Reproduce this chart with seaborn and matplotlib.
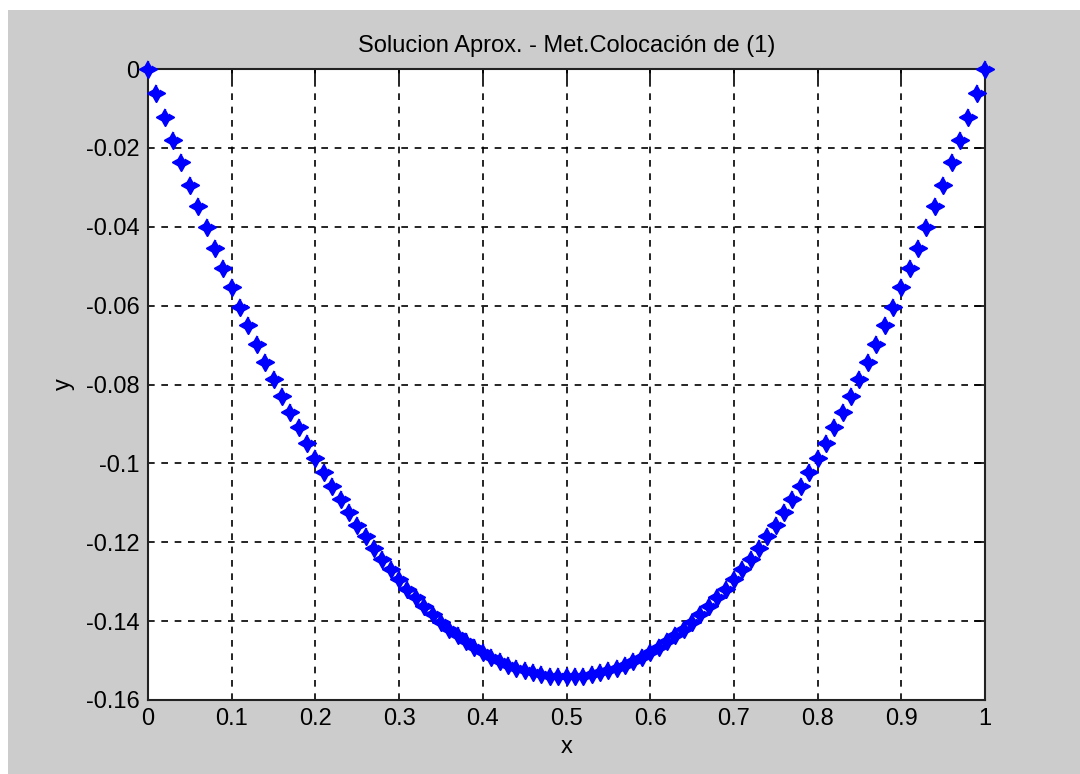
import matplotlib
matplotlib.use("Agg")
import matplotlib.pyplot as plt
import seaborn as sns
import pandas as pd
import numpy as np
from matplotlib.patches import Rectangle

x_vals = [round(i * 0.01, 2) for i in range(101)]
y_vals = [
    0.0, -0.0061, -0.0121, -0.0179, -0.0237, -0.0293, -0.0347, -0.0401, -0.0453, -0.0505,
    -0.0554, -0.0603, -0.0650, -0.0697, -0.0742, -0.0785, -0.0828, -0.0869, -0.0909, -0.0948,
    -0.0986, -0.1022, -0.1057, -0.1091, -0.1124, -0.1155, -0.1185, -0.1214, -0.1242, -0.1268,
    -0.1294, -0.1318, -0.1340, -0.1362, -0.1382, -0.1401, -0.1419, -0.1436, -0.1451, -0.1465,
    -0.1478, -0.1490, -0.1501, -0.1510, -0.1518, -0.1525, -0.1530, -0.1534, -0.1538, -0.1539,
    -0.1540,
    -0.1539, -0.1538, -0.1534, -0.1530, -0.1525, -0.1518, -0.1510, -0.1501, -0.1490, -0.1478,
    -0.1465, -0.1451, -0.1436, -0.1419, -0.1401, -0.1382, -0.1362, -0.1340, -0.1318, -0.1294,
    -0.1268, -0.1242, -0.1214, -0.1185, -0.1155, -0.1124, -0.1091, -0.1057, -0.1022, -0.0986,
    -0.0948, -0.0909, -0.0869, -0.0828, -0.0785, -0.0742, -0.0697, -0.0650, -0.0603, -0.0554,
    -0.0505, -0.0453, -0.0401, -0.0347, -0.0293, -0.0237, -0.0179, -0.0121, -0.0061, 0.0,
]
x_ticks = [0, 0.1, 0.2, 0.3, 0.4, 0.5, 0.6, 0.7, 0.8, 0.9, 1]
x_tick_labels = ["0", "0.1", "0.2", "0.3", "0.4", "0.5", "0.6", "0.7", "0.8", "0.9", "1"]
y_ticks = [0, -0.02, -0.04, -0.06, -0.08, -0.1, -0.12, -0.14, -0.16]
y_tick_labels = ["0", "-0.02", "-0.04", "-0.06", "-0.08", "-0.1", "-0.12", "-0.14", "-0.16"]
title_text = "Solucion Aprox. - Met.Colocación de (1)"

sns.set_style("white")
plt.rcParams["font.family"] = ["Liberation Sans", "DejaVu Sans"]
plt.rcParams["text.color"] = "black"
plt.rcParams["axes.labelcolor"] = "black"

# fat four-pointed star marker shape
ang = np.arange(8) * np.pi / 4 + np.pi / 2
rad = np.where(np.arange(8) % 2 == 0, 1.0, 0.5)
star_verts = list(zip(rad * np.cos(ang), rad * np.sin(ang)))

fig = plt.figure(figsize=(10.8, 7.74), dpi=100, facecolor="white")
fig.patches.append(Rectangle((8 / 1080, 0), 1, 1 - 10 / 774, transform=fig.transFigure,
                             facecolor="#cccccc", edgecolor="none", zorder=-10))
ax = fig.add_axes([148 / 1080, 1 - 700 / 774, (985 - 148) / 1080, (700 - 69) / 774])
ax.set_facecolor("white")

df = pd.DataFrame({"x": x_vals, "y": y_vals})
sns.scatterplot(data=df, x="x", y="y", ax=ax, marker=star_verts, s=150,
                color="#0000ff", edgecolor="#0000ff", linewidth=1.5, zorder=5, clip_on=False)

ax.set_xlim(0, 1)
ax.set_ylim(-0.16, 0)
ax.set_xticks(x_ticks)
ax.set_xticklabels(x_tick_labels)
ax.set_yticks(y_ticks)
ax.set_yticklabels(y_tick_labels)
ax.tick_params(direction="in", length=8, width=1.2, top=True, right=True,
               labelsize=17, colors="black", pad=6)
ax.grid(True, color="black", linestyle=(0, (4, 4)), linewidth=1.2)
for sp in ax.spines.values():
    sp.set_visible(True)
    sp.set_color("#222222")
    sp.set_linewidth(1.5)

ax.set_title(title_text, fontsize=17, pad=12, color="black",
             family=["Liberation Sans Narrow", "Liberation Sans", "DejaVu Sans"])
ax.set_xlabel("x", fontsize=17, labelpad=4, color="black")
ax.set_ylabel("y", fontsize=17, labelpad=8, color="black")

fig.savefig("out.png", dpi=100, facecolor=fig.get_facecolor())
